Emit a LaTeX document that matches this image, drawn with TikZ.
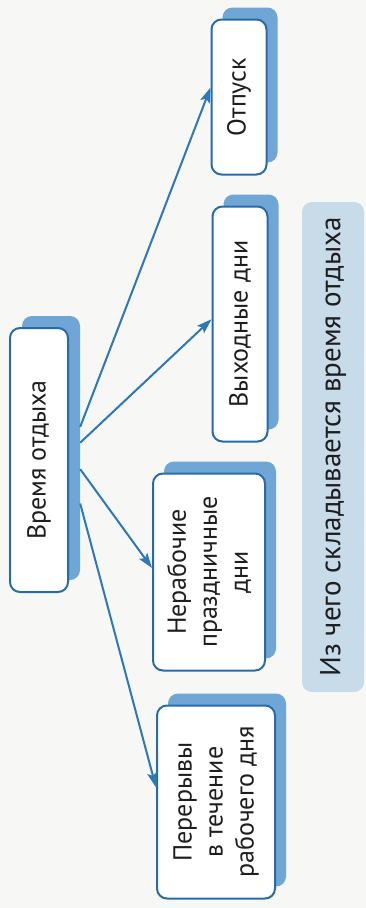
\documentclass[tikz,border=0pt]{standalone}
\usepackage{fontspec}
\setmainfont{PT Sans}
\usetikzlibrary{arrows.meta,calc}
\tikzset{
  restshade/.style={
    fill=shadeblue, rotate=90, rounded corners=10pt, inner sep=0pt,
  },
  restbox/.style={
    draw=boxblue, fill=white, line width=2pt, rotate=90,
    rounded corners=10pt, inner sep=0pt, align=center, text=inkgray,
    font=\fontsize{26}{31}\selectfont,
  },
  restarrow/.style={
    draw=arrowblue, line width=2pt,
    -{Stealth[length=15pt,width=10pt,inset=3pt]},
  },
}

\begin{document}
\begin{tikzpicture}[x=1pt,y=1pt]
% Defining colors
\definecolor{boxblue}{RGB}{38,108,168}
\definecolor{shadeblue}{RGB}{112,166,214}
\definecolor{arrowblue}{RGB}{44,120,184}
\definecolor{bandblue}{RGB}{199,219,233}
\definecolor{inkgray}{RGB}{30,30,33}
\definecolor{paper}{RGB}{247,247,245}

% Page
\fill[paper] (0,0) rectangle (366,-908);
\useasboundingbox (0,0) rectangle (366,-908);

% =:=:=:=:=:=:=:=:=:=:=:=:=:=:=:=:=:=:=
% Central box
% =:=:=:=:=:=:=:=:=:=:=:=:=:=:=:=:=:=:=
\node[restshade, minimum width=264pt, minimum height=58pt]
    (restsh) at (51,-448) {};
\node[restbox, minimum width=264pt, minimum height=58pt]
    (rest) at (39,-460) {Время отдыха};

% =:=:=:=:=:=:=:=:=:=:=:=:=:=:=:=:=:=:=
% Vacation
% =:=:=:=:=:=:=:=:=:=:=:=:=:=:=:=:=:=:=
\node[restshade, minimum width=155pt, minimum height=55pt]
    (vacsh) at (250,-85) {};
\node[restbox, minimum width=155pt, minimum height=55pt]
    (vac) at (239,-97) {Отпуск};

% =:=:=:=:=:=:=:=:=:=:=:=:=:=:=:=:=:=:=
% Days off
% =:=:=:=:=:=:=:=:=:=:=:=:=:=:=:=:=:=:=
\node[restshade, minimum width=235pt, minimum height=55pt]
    (wkndsh) at (251,-312) {};
\node[restbox, minimum width=235pt, minimum height=55pt]
    (wknd) at (240,-324) {Выходные дни};

% =:=:=:=:=:=:=:=:=:=:=:=:=:=:=:=:=:=:=
% Public holidays
% =:=:=:=:=:=:=:=:=:=:=:=:=:=:=:=:=:=:=
\node[restshade, minimum width=197pt, minimum height=112pt]
    (holsh) at (220,-560) {};
\node[restbox, minimum width=197pt, minimum height=112pt]
    (hol) at (209,-572) {Нерабочие\\праздничные\\дни};

% =:=:=:=:=:=:=:=:=:=:=:=:=:=:=:=:=:=:=
% Breaks
% =:=:=:=:=:=:=:=:=:=:=:=:=:=:=:=:=:=:=
\node[restshade, minimum width=193pt, minimum height=118pt]
    (brksh) at (227,-790) {};
\node[restbox, minimum width=193pt, minimum height=118pt]
    (brk) at (216,-802) {Перерывы\\в течение\\рабочего дня};

% =:=:=:=:=:=:=:=:=:=:=:=:=:=:=:=:=:=:=
% Arrows out of the central box
% =:=:=:=:=:=:=:=:=:=:=:=:=:=:=:=:=:=:=
\draw[restarrow]
    ($(restsh.south west)!0.58!(restsh.south east)$)
    -- ($(vac.north west)!0.56!(vac.north east)$);
\draw[restarrow]
    ($(restsh.south west)!0.52!(restsh.south east)$)
    -- ($(wknd.north west)!0.52!(wknd.north east)$);
\draw[restarrow]
    ($(restsh.south west)!0.42!(restsh.south east)$)
    -- ($(hol.north west)!0.52!(hol.north east)$);
\draw[restarrow]
    ($(restsh.south west)!0.29!(restsh.south east)$)
    -- ($(brk.north west)!0.575!(brk.north east)$);

% =:=:=:=:=:=:=:=:=:=:=:=:=:=:=:=:=:=:=
% Caption band
% =:=:=:=:=:=:=:=:=:=:=:=:=:=:=:=:=:=:=
\node[fill=bandblue, rotate=90, rounded corners=10pt, inner sep=0pt,
      minimum width=490pt, minimum height=62pt, text=inkgray,
      font=\fontsize{29}{31}\selectfont]
    (caption) at (333,-447) {Из чего складывается время отдыха};

\end{tikzpicture}
\end{document}
